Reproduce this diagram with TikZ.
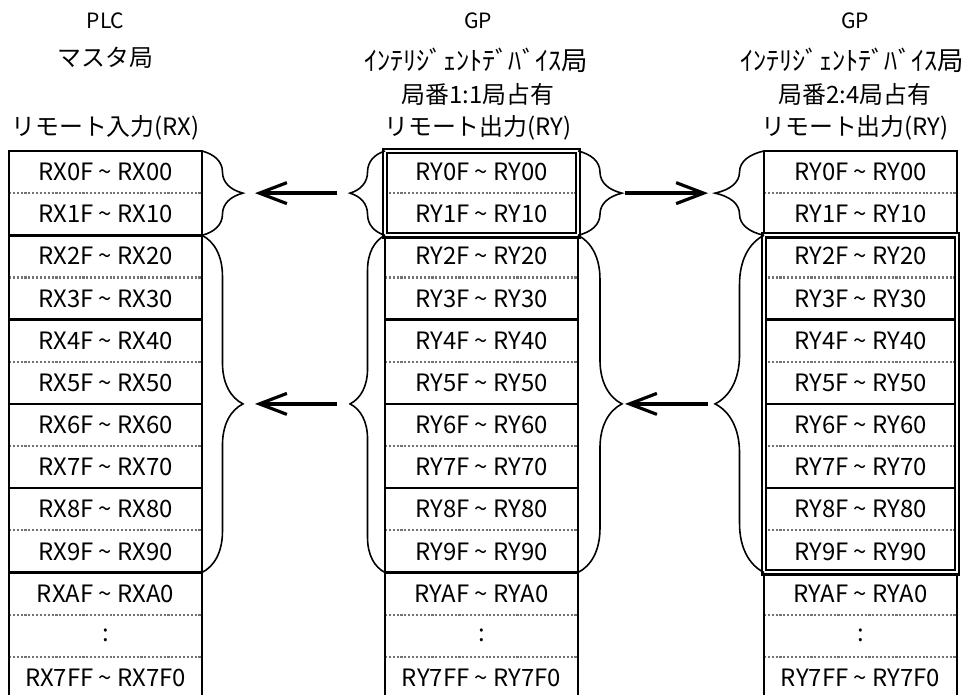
\documentclass[tikz,border=0pt]{standalone}
\usepackage{fontspec}
\setmainfont{Noto Sans CJK JP}
\usetikzlibrary{arrows.meta,positioning,calc,decorations.pathreplacing}
\newcommand{\wv}{\textasciitilde}
\newcommand{\rowfont}{\fontsize{13.6}{16}\selectfont}
\newcommand{\smallhd}{\fontsize{12}{14}\selectfont}
\newcommand{\kanahd}{\fontsize{15}{17}\selectfont}

\begin{document}
\begin{tikzpicture}[
    x=0.02cm, y=-0.02cm,
    cell/.style={minimum width=3.86cm, minimum height=0.843cm, inner sep=0pt, outer sep=0pt, font=\rowfont},
    head/.style={inner sep=0pt, font=\rowfont},
    headsm/.style={inner sep=0pt, font=\smallhd},
    headkana/.style={inner sep=0pt, font=\kanahd},
    frame/.style={draw=black, line width=1.4pt},
    sepsolid/.style={draw=black, line width=1.4pt},
    sepdot/.style={draw=black!55, line width=1.2pt, densely dotted},
    dblframe/.style={draw=black, line width=1.3pt, double=white, double distance=0.04cm},
    brc/.style={draw=black, line width=0.9pt, decorate, decoration={brace, amplitude=#1}},
    arr/.style={line width=2.4pt, -{Straight Barb[length=0.55cm, width=0.42cm, line width=1.8pt]}}
]
\useasboundingbox (0,0) rectangle (963,695);
\clip (0,0) rectangle (963,695);

% 見出し
\node[headsm] (lh1) at (105.5, 21) {PLC};
\node[head] (lh2) at (105.5, 58) {マスタ局};
\node[head] (lh3) at (105.5, 128) {リモート入力(RX)};

\node[headsm] (mh1) at (478, 21) {GP};
\node[headkana] (mh2) at (476, 60) {ｲﾝﾃﾘｼﾞｪﾝﾄﾃﾞﾊﾞｲｽ局};
\node[head] (mh3) at (478, 94) {局番1:1局占有};
\node[head] (mh4) at (478, 128) {リモート出力(RY)};

\node[headsm] (rh1) at (855, 21) {GP};
\node[headkana] (rh2) at (852, 60) {ｲﾝﾃﾘｼﾞｪﾝﾄﾃﾞﾊﾞｲｽ局};
\node[head] (rh3) at (855, 94) {局番2:4局占有};
\node[head] (rh4) at (855, 128) {リモート出力(RY)};

% 表
\foreach \col/\cx/\p in {l/105.5/X, m/481.5/Y, r/860.5/Y} {
  \foreach \k/\h in {0/0,1/1,2/2,3/3,4/4,5/5,6/6,7/7,8/8,9/9,10/A}
    \node[cell] (\col\k) at (\cx, {151+42.15*(\k+0.5)}) {R\p\h F \wv{} R\p\h 0};
  \node[cell] (\col11) at (\cx, {151+42.15*11.5}) {:};
  \node[cell] (\col12) at (\cx, {151+42.15*12.5}) {R\p7FF \wv{} R\p7F0};
  \foreach \k in {1,3,5,7,9,11,12}
    \draw[sepdot] (\col\k.north west) -- (\col\k.north east);
  \foreach \k in {2,4,6,8,10}
    \draw[sepsolid] (\col\k.north west) -- (\col\k.north east);
  \draw[frame] (\col0.north west) rectangle (\col12.south east);
}

% 占有範囲の二重枠
\draw[dblframe] (m0.north west) rectangle (m1.south east);
\draw[dblframe] (r2.north west) rectangle (r9.south east);

% 括弧
\draw[brc=0.82cm] (l0.north east) -- (l1.south east);
\draw[brc=0.82cm] (l2.north east) -- (l9.south east);
\draw[brc=0.7cm] (m1.south west) -- (m0.north west);
\draw[brc=0.7cm] (m9.south west) -- (m2.north west);
\draw[brc=0.88cm] (m0.north east) -- (m1.south east);
\draw[brc=0.88cm] (m2.north east) -- (m9.south east);
\draw[brc=0.98cm] (r1.south west) -- (r0.north west);
\draw[brc=0.98cm] (r9.south west) -- (r2.north west);

\coordinate (lA) at ($(l0.north east)!0.5!(l1.south east)+(41,0)$);
\coordinate (lB) at ($(l2.north east)!0.5!(l9.south east)+(41,0)$);
\coordinate (mAl) at ($(m0.north west)!0.5!(m1.south west)+(-35,0)$);
\coordinate (mBl) at ($(m2.north west)!0.5!(m9.south west)+(-35,0)$);
\coordinate (mAr) at ($(m0.north east)!0.5!(m1.south east)+(44,0)$);
\coordinate (mBr) at ($(m2.north east)!0.5!(m9.south east)+(44,0)$);
\coordinate (rA) at ($(r0.north west)!0.5!(r1.south west)+(-49,0)$);
\coordinate (rB) at ($(r2.north west)!0.5!(r9.south west)+(-49,0)$);

% 矢印
\draw[arr, shorten <=0.26cm, shorten >=0.24cm] (mAl) -- (lA);
\draw[arr, shorten <=0.26cm, shorten >=0.24cm] (mBl) -- (lB);
\draw[arr, shorten <=0.06cm, shorten >=0.14cm] (mAr) -- (rA);
\draw[arr, shorten <=0.14cm, shorten >=0.06cm] (rB) -- (mBr);

\end{tikzpicture}
\end{document}
